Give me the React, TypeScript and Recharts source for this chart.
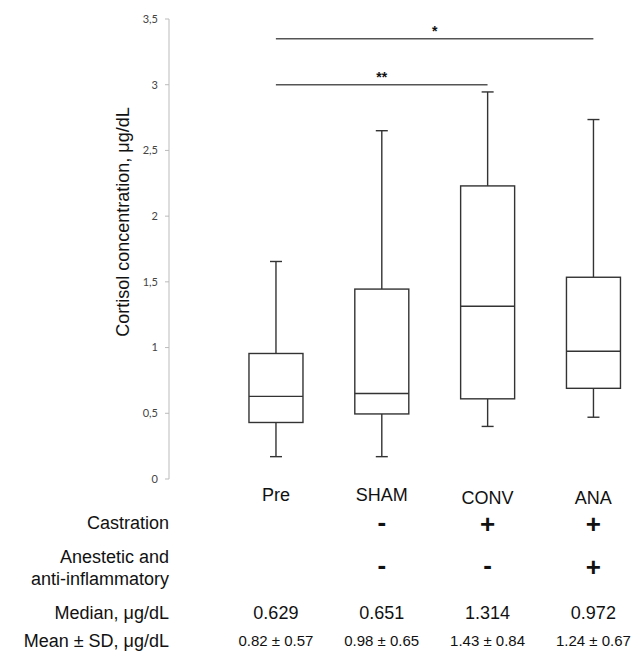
import { ComposedChart, Bar, XAxis, YAxis, ReferenceLine, Label } from "recharts";

const categories = ["Pre", "SHAM", "CONV", "ANA"];
const whiskerLow = [0.17, 0.17, 0.4, 0.47];
const quartile1 = [0.43, 0.495, 0.61, 0.69];
const medians = [0.629, 0.651, 1.314, 0.972];
const quartile3 = [0.955, 1.445, 2.23, 1.535];
const whiskerHigh = [1.655, 2.65, 2.945, 2.735];

const castration = ["", "-", "+", "+"];
const antiInflammatory = ["", "-", "-", "+"];
const medianText = ["0.629", "0.651", "1.314", "0.972"];
const meanSdText = ["0.82 ± 0.57", "0.98 ± 0.65", "1.43 ± 0.84", "1.24 ± 0.67"];

const yTicks = [0, 0.5, 1, 1.5, 2, 2.5, 3, 3.5];

const significance = [
  { from: 0, to: 3, y: 3.35, mark: "*" },
  { from: 0, to: 2, y: 3.0, mark: "**" },
];

const data = categories.map((name, i) => ({
  name,
  pos: i,
  low: whiskerLow[i],
  q1: quartile1[i],
  median: medians[i],
  q3: quartile3[i],
  high: whiskerHigh[i],
}));

const FONT = "'Liberation Sans', Arial, sans-serif";
const STROKE = "#333";
const TXT = "#111";

// ── Box + whiskers drawn inside a range bar [low, high] ────────────────────
function BoxShape(props: any) {
  const { x = 0, y = 0, width = 0, height = 0, payload } = props;
  if (!payload) return null;
  const top = Math.min(y, y + height);
  const bottom = Math.max(y, y + height);
  const k = (bottom - top) / (payload.high - payload.low);
  const py = (v: number) => bottom - (v - payload.low) * k;
  const cx = x + width / 2;
  const cap = 6;
  return (
    <g stroke={STROKE} strokeWidth={1.4} fill="none">
      <line x1={cx} x2={cx} y1={py(payload.high)} y2={py(payload.q3)} />
      <line x1={cx} x2={cx} y1={py(payload.q1)} y2={py(payload.low)} />
      <line x1={cx - cap} x2={cx + cap} y1={py(payload.high)} y2={py(payload.high)} />
      <line x1={cx - cap} x2={cx + cap} y1={py(payload.low)} y2={py(payload.low)} />
      <rect x={x} y={py(payload.q3)} width={width} height={py(payload.q1) - py(payload.q3)} fill="#fff" />
      <line x1={x} x2={x + width} y1={py(payload.median)} y2={py(payload.median)} />
    </g>
  );
}

// ── Category labels + table rows under each box ────────────────────────────
function TableTick(props: any) {
  const { x, y, payload } = props;
  const i = payload.value as number;
  const nameShift = i >= 2 ? 3 : 0;
  // centre of the sign glyph -> baseline
  const sign = (s: string, center: number) =>
    s ? (
      <text
        x={x}
        y={y + center + (s === "+" ? 9 : 7)}
        textAnchor="middle"
        fontSize={26}
        fontWeight={700}
        fill={TXT}
        fontFamily={FONT}
      >
        {s}
      </text>
    ) : null;
  return (
    <g>
      <text x={x} y={y + 22 + nameShift} textAnchor="middle" fontSize={18} fill={TXT} fontFamily={FONT}>
        {categories[i]}
      </text>
      {sign(castration[i], 45)}
      {sign(antiInflammatory[i], 88)}
      <text x={x} y={y + 140} textAnchor="middle" fontSize={18} fill={TXT} fontFamily={FONT}>
        {medianText[i]}
      </text>
      <text x={x} y={y + 167} textAnchor="middle" fontSize={15} fill={TXT} fontFamily={FONT}>
        {meanSdText[i]}
      </text>
    </g>
  );
}

function RowHeaders(props: any) {
  const { viewBox } = props;
  const rx = viewBox.x;
  const ry = viewBox.y;
  const rows: [string, number][] = [
    ["Castration", 50],
    ["Anestetic and", 84],
    ["anti-inflammatory", 106],
    ["Median, μg/dL", 140],
    ["Mean ± SD, μg/dL", 168],
  ];
  return (
    <g>
      {rows.map(([t, dy]) => (
        <text key={t} x={rx} y={ry + dy} textAnchor="end" fontSize={18} fill={TXT} fontFamily={FONT}>
          {t}
        </text>
      ))}
    </g>
  );
}

function YTitle(props: any) {
  const { viewBox } = props;
  const cx = 123;
  const cy = viewBox.y + viewBox.height / 2 - 27;
  return (
    <text
      x={cx}
      y={cy}
      transform={`rotate(-90, ${cx}, ${cy})`}
      textAnchor="middle"
      dominantBaseline="central"
      fontSize={18}
      fill={TXT}
      fontFamily={FONT}
    >
      Cortisol concentration, μg/dL
    </text>
  );
}

export default function App() {
  return (
    <div style={{ position: "absolute", left: 0, top: 0, background: "#fff" }}>
      <ComposedChart width={641} height={652} data={data} margin={{ top: 19, right: 0, bottom: 0, left: 0 }}>
        <XAxis
          type="number"
          dataKey="pos"
          domain={[-1.01, 3.45]}
          ticks={[0, 1, 2, 3]}
          axisLine={false}
          tickLine={false}
          tickSize={0}
          tickMargin={0}
          height={173}
          tick={<TableTick />}
          interval={0}
        >
          <Label content={<RowHeaders />} />
        </XAxis>
        <YAxis
          type="number"
          domain={[0, 3.5]}
          ticks={yTicks}
          width={169}
          axisLine={{ stroke: "#bbb" }}
          tickLine={{ stroke: "#bbb" }}
          tickSize={4}
          tickMargin={7}
          tick={{ fill: "#444", fontSize: 11, fontFamily: "Lato, sans-serif" }}
          tickFormatter={(v: number) => String(v).replace(".", ",")}
        >
          <Label content={<YTitle />} />
        </YAxis>
        <Bar
          dataKey={(d: any) => [d.low, d.high]}
          barSize={54}
          shape={<BoxShape />}
          isAnimationActive={false}
        />
        {significance.map((s) => (
          <ReferenceLine
            key={s.mark}
            segment={[
              { x: s.from, y: s.y },
              { x: s.to, y: s.y },
            ]}
            stroke="#555"
            strokeWidth={1.6}
            label={{ value: s.mark, position: "top", fill: TXT, fontSize: 14, fontWeight: 700, fontFamily: FONT, offset: 3 }}
          />
        ))}
      </ComposedChart>
    </div>
  );
}
